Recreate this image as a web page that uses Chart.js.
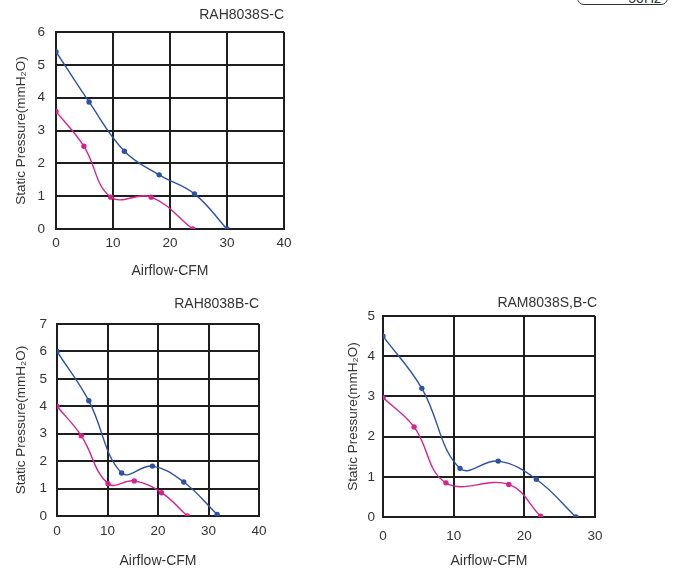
<!DOCTYPE html>
<html>
<head>
<meta charset="utf-8">
<script src="https://cdn.jsdelivr.net/npm/chart.js@4"></script>
<style>
  body { margin: 0; background: #fff; width: 680px; height: 570px; overflow: hidden; position: relative; font-family: "Liberation Sans", Arial, sans-serif; }
  canvas { position: absolute; }
  #freqBox { position: absolute; left: 577px; top: -19px; width: 91px; height: 24px; border: 1px solid #333; border-radius: 7px;
             font-size: 14px; color: #333; text-align: right; line-height: 14px; padding-top: 9px; box-sizing: border-box; }
  #freqBox span { margin-right: 6px; }
</style>
</head>
<body>
<div id="freqBox"><span>50Hz</span></div>
<canvas id="chartS" style="left:0;top:0;"></canvas>
<canvas id="chartB" style="left:0;top:290px;"></canvas>
<canvas id="chartM" style="left:330px;top:290px;"></canvas>
<script>
// RAH8038S-C
const sHighX = [0, 5.8, 12, 18.1, 24.3, 30];
const sHighY = [5.4, 3.87, 2.37, 1.65, 1.07, 0];
const sLowX  = [0, 4.9, 9.6, 16.7, 24];
const sLowY  = [3.58, 2.52, 0.97, 0.97, 0];

// RAH8038B-C
const bHighX = [0, 6.3, 12.8, 18.9, 25.1, 31.7];
const bHighY = [6, 4.2, 1.57, 1.82, 1.24, 0.06];
const bLowX  = [0, 4.8, 10.1, 15.3, 20.7, 25.8];
const bLowY  = [4, 2.93, 1.18, 1.28, 0.85, 0];

// RAM8038S,B-C
const mHighX = [0, 5.5, 10.9, 16.3, 21.7, 27.3];
const mHighY = [4.5, 3.2, 1.21, 1.39, 0.94, 0];
const mLowX  = [0, 4.4, 8.9, 17.8, 22.3];
const mLowY  = [2.97, 2.24, 0.85, 0.81, 0.02];

const BLUE = '#2c52a6';
const PINK = '#d4248c';
const GRID = '#1e1e1e';
const TXT = '#333';
const FONT = '"Liberation Sans", Arial, sans-serif';

function pts(xs, ys) { return xs.map((x, i) => ({ x: x, y: ys[i] })); }

function series(xs, ys, color) {
    return {
        data: pts(xs, ys),
        borderColor: color,
        backgroundColor: color,
        borderWidth: 1.4,
        pointRadius: 2,
        pointHoverRadius: 2,
        tension: 0.4
    };
}

// title drawn above plot, right aligned to plot edge
const titlePlugin = {
    id: 'cornerTitle',
    afterDraw(chart, args, opts) {
        const ctx = chart.ctx;
        ctx.save();
        ctx.font = '14px ' + FONT;
        ctx.fillStyle = TXT;
        ctx.textAlign = 'right';
        ctx.textBaseline = 'middle';
        ctx.fillText(opts.text, chart.chartArea.right + (opts.dx || 0), opts.y);
        ctx.restore();
    }
};

function makeChart(id, w, h, cfg) {
    const cv = document.getElementById(id);
    cv.width = w; cv.height = h;
    cv.style.width = w + 'px'; cv.style.height = h + 'px';
    return new Chart(cv, {
        type: 'line',
        data: { datasets: cfg.datasets },
        plugins: [titlePlugin],
        options: {
            responsive: false,
            animation: false,
            layout: { padding: { left: 0, top: cfg.top, right: cfg.right, bottom: 0 } },
            plugins: {
                legend: { display: false },
                tooltip: { enabled: false },
                cornerTitle: { text: cfg.title, y: cfg.titleY, dx: cfg.titleDx }
            },
            scales: {
                x: {
                    type: 'linear', min: 0, max: cfg.xMax,
                    ticks: { stepSize: 10, color: TXT, font: { family: FONT, size: 13.5 }, padding: cfg.xTickPad, maxRotation: 0 },
                    grid: { color: GRID, lineWidth: 2, drawTicks: false },
                    border: { color: GRID, width: 2 },
                    title: { display: true, text: 'Airflow-CFM', color: TXT, font: { family: FONT, size: 14 }, padding: { top: 0, bottom: cfg.xTitlePad } },
                    afterFit(scale) { scale.height = cfg.xH; }
                },
                y: {
                    min: 0, max: cfg.yMax,
                    ticks: { stepSize: 1, color: TXT, font: { family: FONT, size: 13.5 }, padding: cfg.yTickPad },
                    grid: { color: GRID, lineWidth: 2, drawTicks: false },
                    border: { color: GRID, width: 2 },
                    title: { display: true, text: 'Static Pressure(mmH₂O)', color: TXT, font: { family: FONT, size: 13.5 }, padding: { top: cfg.yTitlePad, bottom: 0 } },
                    afterFit(scale) { scale.width = cfg.yW; }
                }
            }
        }
    });
}

makeChart('chartS', 300, 290, {
    datasets: [series(sHighX, sHighY, BLUE), series(sLowX, sLowY, PINK)],
    title: 'RAH8038S-C', titleY: 15, titleDx: 0,
    xMax: 40, yMax: 6,
    top: 32, right: 16, xH: 61, yW: 56,
    xTickPad: 6, xTitlePad: 10, yTickPad: 11, yTitlePad: 13
});

makeChart('chartB', 300, 280, {
    datasets: [series(bHighX, bHighY, BLUE), series(bLowX, bLowY, PINK)],
    title: 'RAH8038B-C', titleY: 14, titleDx: 0,
    xMax: 40, yMax: 7,
    top: 34, right: 41, xH: 54, yW: 57,
    xTickPad: 7, xTitlePad: 0, yTickPad: 10, yTitlePad: 13
});

makeChart('chartM', 350, 280, {
    datasets: [series(mHighX, mHighY, BLUE), series(mLowX, mLowY, PINK)],
    title: 'RAM8038S,B-C', titleY: 13, titleDx: 2,
    xMax: 30, yMax: 5,
    top: 26, right: 85, xH: 53, yW: 53,
    xTickPad: 11, xTitlePad: 0, yTickPad: 8, yTitlePad: 15
});
</script>
</body>
</html>
